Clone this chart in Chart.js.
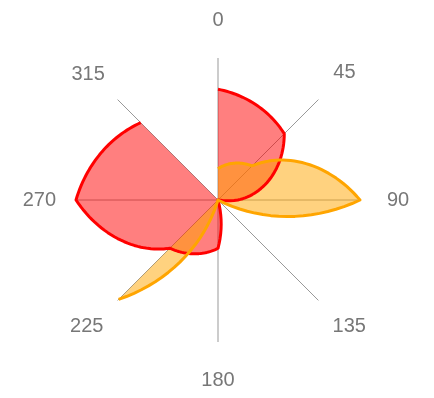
<!DOCTYPE html>
<html>
<head>
<meta charset="utf-8">
<script src="https://cdn.jsdelivr.net/npm/chart.js@4"></script>
<style>
  html, body { margin: 0; padding: 0; background: #fff; }
</style>
</head>
<body>
<canvas id="chart" width="434" height="398"></canvas>
<script>
const directions = ['0', '45', '90', '135', '180', '225', '270', '315'];
const redValues = [7.8, 6.6, 1.4, -6.7, 3.4, 4.8, 10, 7.7];
const orangeValues = [2.2, 3.4, 10, -6.7, -6.0, 9.9];

// gap between the axis end and each direction label
const labelPadding = [26, 21, 27, 20, 26, 20, 20, 18];

const STEPS = 30;

// joins the radar points along the angle (radius changes linearly between two
// directions), pins negative radii to the centre and closes each area through
// the centre, so a series that does not go all the way round stays open
const spiralArea = {
  id: 'spiralArea',
  afterDatasetsDraw(chart) {
    const scale = chart.scales.r;
    const ctx = chart.ctx;
    const radius = (v) => Math.max(0, scale.getDistanceFromCenterForValue(v));

    const traces = chart.data.datasets.map((ds) => {
      const vals = ds.data;
      const pts = [];
      for (let i = 0; i < vals.length - 1; i++) {
        for (let k = 0; k < STEPS; k++) {
          const t = k / STEPS;
          pts.push(scale.getPointPosition(i + t, radius(vals[i] + (vals[i + 1] - vals[i]) * t)));
        }
      }
      const last = vals.length - 1;
      pts.push(scale.getPointPosition(last, radius(vals[last])));
      return { ds, pts };
    });

    ctx.save();
    traces.forEach(({ ds, pts }) => {
      ctx.beginPath();
      ctx.moveTo(scale.xCenter, scale.yCenter);
      pts.forEach((p) => ctx.lineTo(p.x, p.y));
      ctx.closePath();
      ctx.fillStyle = ds.backgroundColor;
      ctx.fill();
    });
    traces.forEach(({ ds, pts }) => {
      ctx.beginPath();
      pts.forEach((p, i) => (i ? ctx.lineTo(p.x, p.y) : ctx.moveTo(p.x, p.y)));
      ctx.lineWidth = ds.borderWidth;
      ctx.lineJoin = 'round';
      ctx.strokeStyle = ds.borderColor;
      ctx.stroke();
    });
    ctx.restore();
  }
};

new Chart(document.getElementById('chart'), {
  type: 'radar',
  data: {
    labels: directions,
    datasets: [
      {
        label: 'red',
        data: redValues,
        borderColor: 'rgb(255, 0, 0)',
        backgroundColor: 'rgba(255, 0, 0, 0.5)',
        borderWidth: 3
      },
      {
        label: 'orange',
        data: orangeValues,
        borderColor: 'rgb(255, 165, 0)',
        backgroundColor: 'rgba(255, 165, 0, 0.5)',
        borderWidth: 3
      }
    ]
  },
  options: {
    responsive: false,
    animation: false,
    events: [],
    layout: { padding: { top: 8, bottom: 6, left: 7, right: 9 } },
    datasets: {
      radar: { showLine: false, fill: false, pointRadius: 0, pointHoverRadius: 0 }
    },
    plugins: {
      legend: { display: false },
      tooltip: { enabled: false }
    },
    scales: {
      r: {
        min: 0,
        max: 10,
        grid: { display: false },
        ticks: { display: false },
        angleLines: { color: '#999', lineWidth: 1 },
        pointLabels: {
          color: '#777',
          padding: (ctx) => labelPadding[ctx.index],
          font: { family: 'Liberation Sans, Arial, sans-serif', size: 20 }
        }
      }
    }
  },
  plugins: [spiralArea]
});
</script>
</body>
</html>
